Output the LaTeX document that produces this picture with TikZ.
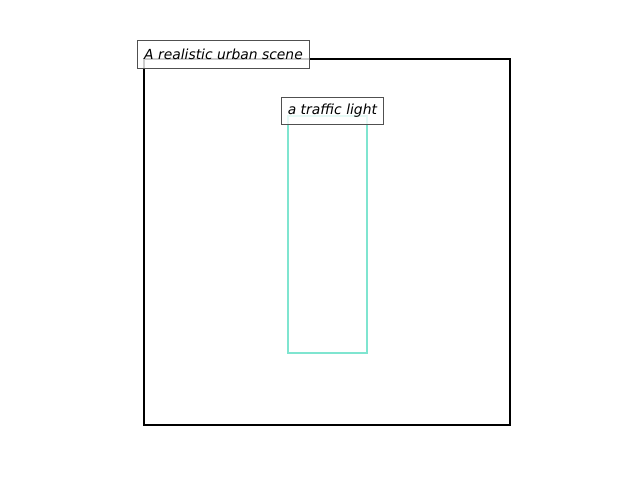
\documentclass[tikz,border=0pt]{standalone}
\usepackage{fontspec}
\setsansfont{DejaVu Sans}
\definecolor{lightteal}{RGB}{127,229,208}
\definecolor{boxgrey}{RGB}{80,80,80}
\tikzstyle{caption} = [rectangle, draw=boxgrey, line width=0.9pt, fill=white, fill opacity=0.8, text opacity=1, inner sep=0pt, text centered, font=\sffamily\itshape\fontsize{10.4}{12}\selectfont]
\tikzstyle{region} = [line width=1.5pt]

\begin{document}
\begin{tikzpicture}[x=0.75pt, y=0.75pt, yscale=-1]
\useasboundingbox (0,0) rectangle (640,480);

\draw [region, black] (144,59) rectangle (510,425);
\draw [region, lightteal] (288,116) rectangle (366.5,353);

\node at (223.5,54.3) (scene) [caption, minimum width=172*0.75pt, minimum height=28*0.75pt] {A realistic urban scene};
\node at (332.4,111) (light) [caption, minimum width=102.5*0.75pt, minimum height=27.5*0.75pt] {a traffic light};

\end{tikzpicture}
\end{document}
